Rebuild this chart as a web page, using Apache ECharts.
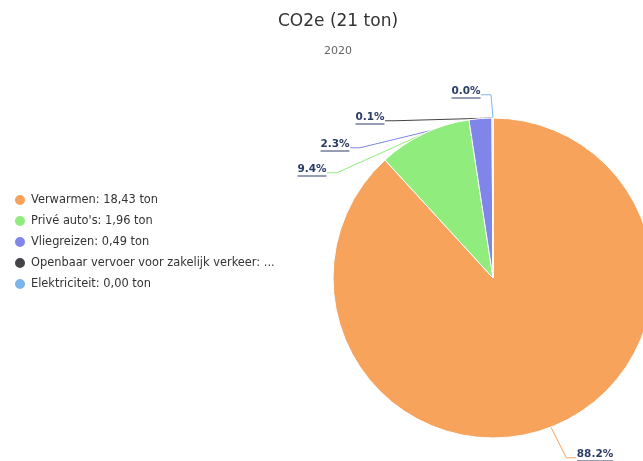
<!DOCTYPE html>
<html>
<head>
<meta charset="utf-8">
<script src="https://cdn.jsdelivr.net/npm/echarts@6/dist/echarts.min.js"></script>
<style>
  html, body { margin: 0; padding: 0; background: #fff; }
  #chart { width: 643px; height: 461px; }
</style>
</head>
<body>
<div id="chart"></div>
<script>
// Emission sources, tonnes and share of the total
const categories = ['Verwarmen', "Privé auto's", 'Vliegreizen', 'Openbaar vervoer voor zakelijk verkeer', 'Elektriciteit'];
const tonnes = ['18,43', '1,96', '0,49', '0,03', '0,00'];
const shares = [88.2, 9.4, 2.3, 0.1, 0.0];
const colors = ['#f7a35c', '#90ed7d', '#8085e9', '#434348', '#7cb5ec'];

// where each percentage label sits (centre of the text, px)
const labelSpots = [[595, 455], [312, 170], [335, 145], [370, 118], [466, 92]];

const FONT = 'DejaVu Sans';
const LABEL_COLOR = '#2b3d66';

// width of a label's text, used to size the underline below it
const ctx = document.createElement('canvas').getContext('2d');
ctx.font = 'bold 10.5px "' + FONT + '"';
function textWidth(s) { return Math.round(ctx.measureText(s).width); }

const legendText = {};
categories.forEach((c, i) => { legendText[c] = c + ': ' + tonnes[i] + ' ton'; });

const data = categories.map((c, i) => {
  const txt = shares[i].toFixed(1) + '%';
  return {
    name: c,
    value: shares[i],
    itemStyle: { color: colors[i] },
    labelLine: { lineStyle: { color: colors[i], width: 1 } },
    label: {
      formatter: '{t|' + txt + '}\n{u|}',
      rich: {
        t: { fontFamily: FONT, fontSize: 10.5, fontWeight: 'bold', color: LABEL_COLOR,
             textBorderColor: '#fff', textBorderWidth: 1, lineHeight: 12 },
        u: { width: textWidth(txt), height: 1, backgroundColor: LABEL_COLOR }
      }
    }
  };
});

const chart = echarts.init(document.getElementById('chart'), null, { renderer: 'canvas' });
chart.setOption({
  animation: false,
  backgroundColor: '#fff',
  title: {
    text: 'CO2e (21 ton)',
    subtext: '2020',
    left: 333,
    textAlign: 'center',
    top: 8,
    itemGap: 16,
    textStyle: { fontFamily: FONT, fontSize: 17, fontWeight: 'normal', color: '#333' },
    subtextStyle: { fontFamily: FONT, fontSize: 11, color: '#666' }
  },
  legend: {
    orient: 'vertical',
    left: 13,
    top: 193,
    padding: 0,
    itemGap: 7,
    icon: 'circle',
    itemWidth: 12,
    itemHeight: 12,
    data: categories,
    formatter: name => legendText[name],
    textStyle: { fontFamily: FONT, fontSize: 11.4, color: '#333', width: 249, overflow: 'truncate', ellipsis: '...' }
  },
  series: [{
    type: 'pie',
    center: [493, 278],
    radius: 160,
    startAngle: 90,
    clockwise: true,
    avoidLabelOverlap: false,
    itemStyle: { borderColor: '#fff', borderWidth: 1 },
    label: { show: true, position: 'outside', overflow: 'none' },
    labelLine: { show: true, length: 10, length2: 10, smooth: false },
    labelLayout: params => {
      const p = labelSpots[params.dataIndex];
      return { x: p[0], y: p[1], align: 'center', verticalAlign: 'middle' };
    },
    emphasis: { disabled: true },
    data: data
  }]
});
</script>
</body>
</html>
